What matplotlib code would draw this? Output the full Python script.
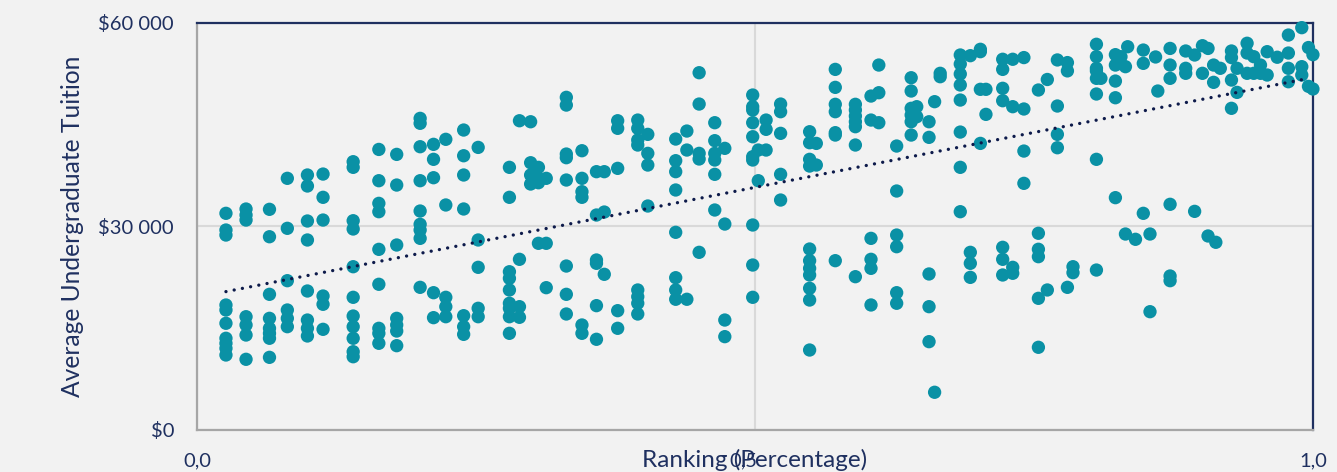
import matplotlib
matplotlib.use("Agg")
import matplotlib.pyplot as plt
import matplotlib.transforms as mtransforms
from matplotlib.ticker import FuncFormatter

# ---- data: (ranking percentage, average undergraduate tuition) grouped by rank position ----
columns = [
    (0.026, [31940, 29480, 28740, 18425, 17690, 15730, 13520, 12780, 12040, 11055]),
    (0.044, [32575, 31690, 30950, 16700, 15480, 14000, 10420]),
    (0.065, [32530, 28490, 20000, 16460, 14990, 14250, 13520, 10710]),
    (0.081, [37100, 29730, 22010, 17690, 16460, 15230]),
    (0.099, [37590, 35970, 30810, 28010, 20490, 16210, 14990, 13860]),
    (0.113, [37730, 34300, 30950, 19750, 18530, 14840]),
    (0.140, [39550, 38720, 30850, 29630, 24070, 19560, 16800, 15230, 13520, 11540, 10800]),
    (0.163, [41360, 36750, 33410, 32180, 26630, 21480, 14990, 14250, 12780]),
    (0.179, [40630, 36110, 27270, 16460, 15480, 14590, 12430]),
    (0.200, [45940, 45210, 41760, 36750, 32280, 30320, 29480, 28250, 21030]),
    (0.212, [42110, 39900, 37190, 20240, 16560]),
    (0.223, [42850, 33170, 19560, 18180, 16700]),
    (0.239, [44220, 40430, 37590, 32580, 16850, 15230, 14100]),
    (0.252, [41660, 28010, 23980, 17940, 16700]),
    (0.280, [38720, 34300, 23330, 22360, 20640, 18680, 17940, 16700, 14250]),
    (0.289, [45590, 25160, 18180, 16610]),
    (0.299, [45440, 39400, 37590, 36260]),
    (0.306, [38720, 37100, 36450, 27520]),
    (0.313, [37100, 27520, 20980]),
    (0.331, [49040, 47900, 40680, 40140, 36850, 24170, 20000, 17100]),
    (0.345, [41170, 37100, 35130, 34300, 15480, 14250]),
    (0.358, [38080, 31690, 25060, 24570, 18330, 13370]),
    (0.365, [38080, 32130, 22950]),
    (0.377, [45590, 44470, 38570, 17590, 14990]),
    (0.395, [45690, 44470, 42750, 42010, 20640, 19650, 18680, 17100]),
    (0.404, [43580, 40780, 39060, 33020]),
    (0.429, [42890, 39700, 38080, 35380, 29140, 22450, 20640, 19270]),
    (0.439, [44070, 41270, 19270]),
    (0.450, [52670, 48050, 40780, 39950, 26190]),
    (0.464, [45300, 42650, 40780, 39800, 37690, 32430]),
    (0.473, [41520, 30360, 16210, 13760]),
    (0.498, [49380, 47660, 47170, 45300, 43230, 40290, 39800, 30220, 24320, 19560]),
    (0.503, [41270, 36750]),
    (0.510, [45690, 44320, 41270]),
    (0.523, [48050, 46920, 43730, 37690, 33900]),
    (0.549, [43970, 42350, 39900, 38910, 26680, 24960, 23830, 22850, 20890, 19160, 11790]),
    (0.555, [42250, 39060]),
    (0.572, [53160, 50510, 48010, 46920, 43830, 43480, 24960]),
    (0.590, [48010, 47170, 46280, 45440, 44710, 42010, 22600]),
    (0.604, [49230, 45690, 28250, 25160, 23830, 18430]),
    (0.611, [53800, 49720, 45300]),
    (0.627, [41860, 35230, 28740, 27020, 20240, 18680]),
    (0.640, [51930, 49970, 47420, 46430, 45440, 43480]),
    (0.645, [47660, 46180]),
    (0.656, [45440, 43140, 23000, 18180, 13020]),
    (0.661, [48400, 5560]),
    (0.666, [52580, 52080]),
    (0.684, [55280, 53950, 52480, 50860, 48640, 43920, 38720, 32180]),
    (0.693, [55180, 26190, 24570, 22500]),
    (0.702, [56120, 55770, 50220, 42250]),
    (0.707, [50220, 46530]),
    (0.722, [54650, 53160, 50370, 48540, 26930, 25160, 22850]),
    (0.731, [54650, 47660, 23980, 23100]),
    (0.741, [54900, 47320, 41120, 36360]),
    (0.754, [50120, 29000, 26640, 25550, 19410, 12190]),
    (0.762, [51670, 20640]),
    (0.771, [54550, 47760, 43580, 41610]),
    (0.780, [54160, 52940, 21030]),
    (0.785, [24070, 23190]),
    (0.806, [56860, 55040, 53320, 52940, 51840, 49530, 39900, 23580]),
    (0.810, [51840]),
    (0.823, [55330, 53800, 51440, 48980, 34250]),
    (0.828, [55030]),
    (0.832, [53560, 28890]),
    (0.834, [56500]),
    (0.841, [28110]),
    (0.848, [56010, 54050, 31940]),
    (0.854, [28890, 17440]),
    (0.859, [54990]),
    (0.861, [49970]),
    (0.872, [56250, 53800, 51840, 33270, 22700, 22010]),
    (0.886, [55870, 53320, 52580]),
    (0.894, [55280, 32230]),
    (0.901, [56650, 52580]),
    (0.906, [56250, 28600]),
    (0.911, [53800, 51250]),
    (0.913, [27670]),
    (0.917, [53320]),
    (0.927, [55870, 54900, 51590, 47420]),
    (0.932, [53320, 49770]),
    (0.941, [57010, 55570, 52580]),
    (0.947, [55030, 52580]),
    (0.953, [53800, 52580]),
    (0.959, [55770, 52330]),
    (0.968, [54950]),
    (0.978, [58220, 55570, 53320, 51340]),
    (0.990, [59310, 53560, 52330]),
    (0.996, [56380, 50660]),
    (1.000, [55330, 50270]),
]

rank = [x for x, ys in columns for _ in ys]
tuition = [y for _, ys in columns for y in ys]

# linear trendline (start and end of the dotted line)
trend_x = [0.026, 0.995]
trend_y = [20400, 51800]

x_ticks = [0.0, 0.5, 1.0]
x_tick_labels = ["0,0", "0,5", "1,0"]
y_ticks = [0, 30000, 60000]

# ---- styling ----
BG = "#f2f2f2"
TEAL = "#0a91a5"
NAVY = "#1f3060"
TEXT = "#1f3060"

plt.rcParams["font.family"] = ["Lato", "DejaVu Sans"]

fig = plt.figure(figsize=(13.37, 4.72), dpi=100, facecolor=BG)
ax = fig.add_axes([0.1473, 0.089, 0.8347, 0.8623])
ax.set_facecolor(BG)

ax.set_xlim(0, 1)
ax.set_ylim(0, 60000)

ax.grid(True, color="#d9d9d9", linewidth=1.5)
ax.set_axisbelow(True)

ax.scatter(rank, tuition, s=92, color=TEAL, edgecolors="none", zorder=3, clip_on=False)
ax.plot(trend_x, trend_y, color="#0d1a4a", linewidth=2.4,
        linestyle=(0, (0.01, 2.5)), dash_capstyle="round", solid_capstyle="round", zorder=4)

ax.set_xticks(x_ticks)
ax.set_xticklabels(x_tick_labels)
ax.set_yticks(y_ticks)
ax.yaxis.set_major_formatter(FuncFormatter(lambda v, p: "$" + f"{int(v):,}".replace(",", " ")))

ax.tick_params(axis="both", length=0, labelsize=14.5, colors=TEXT)
ax.tick_params(axis="y", pad=16.5)
ax.tick_params(axis="x", pad=16)

# the middle x label sits slightly left of its tick in the reference
mid = ax.get_xticklabels()[1]
mid.set_transform(mid.get_transform() + mtransforms.ScaledTranslation(-12 / 100, 0, fig.dpi_scale_trans))

for side in ["top", "right"]:
    ax.spines[side].set_color(NAVY)
    ax.spines[side].set_linewidth(1.6)
for side in ["left", "bottom"]:
    ax.spines[side].set_color("#a6a6a6")
    ax.spines[side].set_linewidth(1.6)

ax.set_ylabel("Average Undergraduate Tuition", fontsize=17.7, color=TEXT)
ax.yaxis.set_label_coords(-0.101, 0.5)
ax.set_xlabel("Ranking (Percentage)", fontsize=17.5, color=TEXT)
ax.xaxis.set_label_coords(0.5, -0.073)
ax.xaxis.label.set_verticalalignment("center")

fig.savefig("out.png", dpi=100, facecolor=BG)
